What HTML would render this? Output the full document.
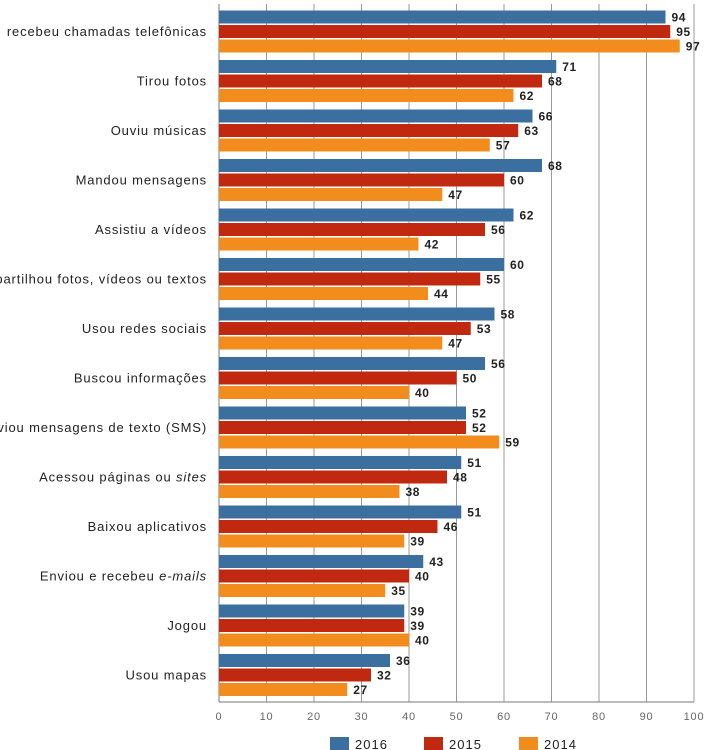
<!DOCTYPE html>
<html><head><meta charset="utf-8"><style>
body{margin:0;background:#fff;width:707px;height:750px;overflow:hidden}
svg{display:block;font-family:"Liberation Sans",sans-serif}
</style></head><body>
<svg id="chart" width="707" height="750"></svg>
<script>
const categories=["recebeu chamadas telefônicas","Tirou fotos","Ouviu músicas","Mandou mensagens","Assistiu a vídeos","Compartilhou fotos, vídeos ou textos","Usou redes sociais","Buscou informações","Enviou mensagens de texto (SMS)","Acessou páginas ou |sites","Baixou aplicativos","Enviou e recebeu |e-mails","Jogou","Usou mapas"];
const values2016=[94,71,66,68,62,60,58,56,52,51,51,43,39,36];
const values2015=[95,68,63,60,56,55,53,50,52,48,46,40,39,32];
const values2014=[97,62,57,47,42,44,47,40,59,38,39,35,40,27];
const ticks=[0,10,20,30,40,50,60,70,80,90,100];
const seriesNames=["2016","2015","2014"];
const colors=["#3a6f9f","#c0290f","#f28c1c"];
const NS="http://www.w3.org/2000/svg";
const svg=document.getElementById('chart');
const X0=219,X1=694,TOP=10.5,PITCH=49.5,BH=13,BSTEP=14.5,BASE=702;
const xs=v=>X0+(v/100)*(X1-X0);
function mk(t,a,p){const e=document.createElementNS(NS,t);for(const k in a)e.setAttribute(k,a[k]);(p||svg).appendChild(e);return e;}
ticks.forEach(t=>{
 const l=mk('line',{x1:xs(t),x2:xs(t),y1:4,y2:BASE,stroke:t===0?'#777':'#999','stroke-width':1});
 
 
 const tx=mk('text',{x:xs(t),y:720,'text-anchor':'middle','font-size':11,fill:'#666','letter-spacing':'0.8'});
 tx.textContent=t;
 
 
});
const ax=mk('line',{x1:X0,x2:X1,y1:BASE,y2:BASE,stroke:'#777','stroke-width':1});


const series=[values2016,values2015,values2014];
categories.forEach((c,i)=>{
 const gy=TOP+i*PITCH;
 const lb=mk('text',{x:207,y:gy+BSTEP+BH/2+4.5,'text-anchor':'end','font-size':13,fill:'#222','letter-spacing':'0.85'});
 const parts=c.split('|');
 const t1=mk('tspan',{},lb);t1.textContent=parts[0];
 if(parts[1]){const t2=mk('tspan',{'font-style':'italic'},lb);t2.textContent=parts[1];}
 
 
 series.forEach((s,j)=>{
  const y=gy+j*BSTEP;
  const r=mk('rect',{x:X0,y:y,width:xs(s[i])-X0,height:BH,fill:colors[j]});
  
  
  const v=mk('text',{x:xs(s[i])+6,y:y+BH/2+4.5,'font-size':12,'font-weight':'bold',fill:'#222','letter-spacing':'0.6'});
  v.textContent=s[i];
  
  
 });
});
const lx=[330,424,519];
seriesNames.forEach((n,j)=>{
 const r=mk('rect',{x:lx[j],y:737,width:19,height:14,fill:colors[j]});
 
 
 const t=mk('text',{x:lx[j]+25,y:749,'font-size':13,fill:'#222','letter-spacing':'1'});
 t.textContent=n;
 
 
});
</script>
</body></html>
